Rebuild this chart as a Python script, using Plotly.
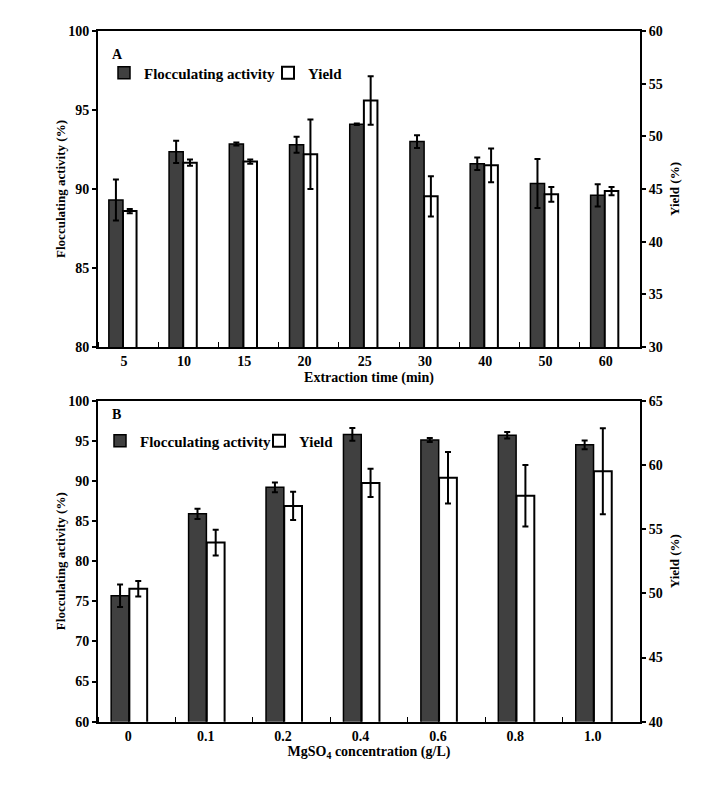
import numpy as np
import plotly.graph_objects as go

# ---------------- data ----------------
times = ["5", "10", "15", "20", "25", "30", "40", "50", "60"]
fa_A = [89.3, 92.35, 92.85, 92.8, 94.1, 93.0, 91.6, 90.35, 89.6]
fa_A_err = [1.3, 0.7, 0.1, 0.5, 0.05, 0.4, 0.4, 1.55, 0.7]
yield_A = [42.9, 47.5, 47.6, 48.3, 53.4, 44.3, 47.25, 44.5, 44.8]
yield_A_err = [0.2, 0.3, 0.2, 3.3, 2.3, 1.9, 1.6, 0.7, 0.4]

conc = ["0", "0.1", "0.2", "0.4", "0.6", "0.8", "1.0"]
fa_B = [75.7, 85.9, 89.2, 95.8, 95.1, 95.7, 94.5]
fa_B_err = [1.4, 0.65, 0.6, 0.8, 0.25, 0.4, 0.55]
yield_B = [50.35, 53.95, 56.8, 58.6, 59.0, 57.6, 59.5]
yield_B_err = [0.6, 1.0, 1.1, 1.1, 2.0, 2.4, 3.35]

# ---------------- style ----------------
FONT = "Liberation Serif"
DARK = "#404040"
W, H = 722, 794
OFF = 8  # page body margin
xA = np.arange(len(times))
xB = np.arange(len(conc))

def px(x):
    return (x - OFF) / W

def py(y):
    return 1 - (y - OFF) / H

fig = go.Figure()

def err(v):
    return dict(type="data", array=v, visible=True, color="black", thickness=2, width=3)

fig.add_trace(go.Bar(x=xA, y=fa_A, error_y=err(fa_A_err), name="Flocculating activity",
                     marker=dict(color=DARK, line=dict(color="black", width=1.5)),
                     offset=-0.32, width=0.235, xaxis="x", yaxis="y", legend="legend"))
fig.add_trace(go.Bar(x=xA, y=yield_A, error_y=err(yield_A_err), name="Yield",
                     marker=dict(color="white", line=dict(color="black", width=2)),
                     offset=-0.085, width=0.225, xaxis="x", yaxis="y2", legend="legend"))
fig.add_trace(go.Bar(x=xB, y=fa_B, error_y=err(fa_B_err), name="Flocculating activity",
                     marker=dict(color=DARK, line=dict(color="black", width=1.5)),
                     offset=-0.33, width=0.23, xaxis="x2", yaxis="y3", legend="legend2"))
fig.add_trace(go.Bar(x=xB, y=yield_B, error_y=err(yield_B_err), name="Yield",
                     marker=dict(color="white", line=dict(color="black", width=2)),
                     offset=-0.095, width=0.23, xaxis="x2", yaxis="y4", legend="legend2"))

tickfont = dict(family=FONT, size=14, color="black", weight="bold")
titlefont = dict(family=FONT, size=13, color="black", weight="bold")
xtitlefont = dict(family=FONT, size=14, color="black", weight="bold")
legfont = dict(family=FONT, size=15, color="black", weight="bold")

xdom = [px(98), px(640)]
domA = [py(347), py(31)]
domB = [py(721.7), py(400.7)]

def xaxis(labels, dom, anchor, title, shift):
    n = len(labels)
    return dict(domain=dom, anchor=anchor, range=[-0.5, n - 0.5],
                tickmode="array", tickvals=list(np.arange(n) - shift), ticktext=labels,
                ticks="", tickfont=tickfont, showline=True, linecolor="black", linewidth=2,
                mirror=True, showgrid=False, zeroline=False, automargin=False,
                minor=dict(tickmode="linear", tick0=0.5, dtick=1, ticks="inside", ticklen=5,
                           tickcolor="black", tickwidth=1, showgrid=False),
                title=dict(text=title, font=xtitlefont, standoff=4))

def yaxis(dom, anchor, rng, dtick, title, side="left", overlay=None, standoff=8):
    d = dict(domain=dom, anchor=anchor, range=rng, dtick=dtick, tick0=rng[0],
             side=side, ticks="outside", ticklen=4, tickwidth=1.5, tickcolor="black",
             tickfont=tickfont, showline=True, linecolor="black", linewidth=2,
             showgrid=False, zeroline=False, automargin=False,
             title=dict(text=title, font=titlefont, standoff=standoff))
    if overlay:
        d["overlaying"] = overlay
    return d

fig.update_layout(
    width=W, height=H,
    margin=dict(l=0, r=0, t=0, b=0),
    paper_bgcolor="white", plot_bgcolor="white",
    barmode="overlay",
    xaxis=xaxis(times, xdom, "y", "Extraction time (min)", 0.07),
    xaxis2=xaxis(conc, xdom, "y3", "MgSO<sub>4</sub> concentration (g/L)", 0.11),
    yaxis=yaxis(domA, "x", [80, 100], 5, "Flocculating activity (%)", standoff=0),
    yaxis2=yaxis(domA, "x", [30, 60], 5, "Yield (%)", side="right", overlay="y"),
    yaxis3=yaxis(domB, "x2", [60, 100], 5, "Flocculating activity (%)", standoff=0),
    yaxis4=yaxis(domB, "x2", [40, 65], 5, "Yield (%)", side="right", overlay="y3"),
    legend=dict(orientation="h", x=px(104), y=py(73), yanchor="middle",
                xanchor="left", font=legfont, bgcolor="rgba(0,0,0,0)", itemwidth=30,
                entrywidth=119, entrywidthmode="pixels"),
    legend2=dict(orientation="h", x=px(100), y=py(441), yanchor="middle",
                 xanchor="left", font=legfont, bgcolor="rgba(0,0,0,0)", itemwidth=30,
                 entrywidth=114, entrywidthmode="pixels"),
    annotations=[
        dict(text="A", x=px(110), y=py(45), xref="paper", yref="paper",
             showarrow=False, font=dict(family=FONT, size=14, color="black", weight="bold")),
        dict(text="B", x=px(110), y=py(415), xref="paper", yref="paper",
             showarrow=False, font=dict(family=FONT, size=14, color="black", weight="bold")),
    ],
)

fig.write_html("out.html")
